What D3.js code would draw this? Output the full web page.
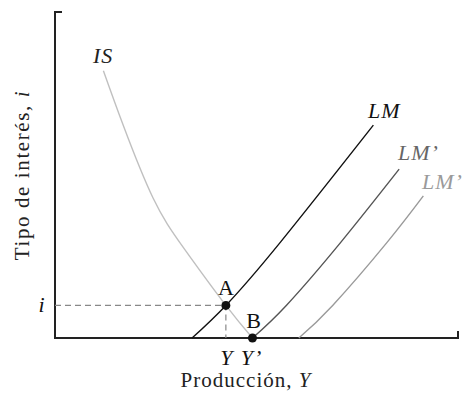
<!DOCTYPE html>
<html>
<head>
<meta charset="utf-8">
<script src="https://cdn.jsdelivr.net/npm/d3@7"></script>
<style>
  body { margin: 0; background: #fff; }
  text { font-family: "Liberation Serif", "DejaVu Serif", serif; }
</style>
</head>
<body>
<div class="chart"></div>
<script>
// curves (output, interest rate)
const isCurve  = [[12, 82], [17, 65], [24.3, 43], [32, 27.5], [42.4, 10], [49, 0]];
const lmCurve  = [[34, 0], [42.4, 10], [56, 29.5], [79, 65.3]];
const lm2Curve = [[49, 0], [57.4, 10], [71, 29.5], [85.4, 51.8]];
const lm3Curve = [[60.5, 0], [68.9, 10], [82.5, 29.5], [91.4, 43.6]];
const pointA = [42.4, 10];
const pointB = [49, 0];

let width = 462, height = 399;

let svg = d3.select(".chart").append("svg")
  .attr("width", width)
  .attr("height", height);

let x = d3.scaleLinear().domain([0, 100]).range([55, 458]);
let y = d3.scaleLinear().domain([0, 100]).range([338, 12]);

const line = d3.line()
  .x(d => x(d[0]))
  .y(d => y(d[1]))
  .curve(d3.curveNatural);

// axes
svg.append("path")
  .attr("d", "M" + (x(0) + 7) + "," + y(100) + "H" + x(0) + "V" + y(0) + "H" + x(100) + "V" + (y(0) - 7))
  .attr("fill", "none")
  .attr("stroke", "#222")
  .attr("stroke-width", 2);

// dashed guides
svg.append("path")
  .attr("d", "M" + x(0) + "," + y(pointA[1]) + "H" + x(pointA[0]) + "V" + y(0))
  .attr("fill", "none")
  .attr("stroke", "#888")
  .attr("stroke-width", 1.2)
  .attr("stroke-dasharray", "6,4");

let curves = [
  { data: isCurve, color: "#c0c0c0" },
  { data: lmCurve, color: "#111" },
  { data: lm2Curve, color: "#555" },
  { data: lm3Curve, color: "#9a9a9a" }
];

svg.selectAll(".curve")
  .data(curves)
  .join("path")
  .attr("class", "curve")
  .attr("d", d => line(d.data))
  .attr("fill", "none")
  .attr("stroke", d => d.color)
  .attr("stroke-width", 1.4);

svg.selectAll(".pt")
  .data([pointA, pointB])
  .join("circle")
  .attr("class", "pt")
  .attr("cx", d => x(d[0]))
  .attr("cy", d => y(d[1]))
  .attr("r", 4.5)
  .attr("fill", "#111");

// labels
const labels = [
  { t: "IS", x: 93, y: 63, c: "#222", it: true, a: "start" },
  { t: "LM", x: 368, y: 118, c: "#111", it: true, a: "start" },
  { t: "LM\u2019", x: 398, y: 160, c: "#666", it: true, a: "start" },
  { t: "LM\u2019\u2019", x: 422, y: 189, c: "#9a9a9a", it: true, a: "start" },
  { t: "A", x: x(pointA[0]), y: 295, c: "#111", it: false, a: "middle" },
  { t: "B", x: x(pointB[0]) + 1, y: 328, c: "#111", it: false, a: "middle" },
  { t: "Y", x: x(pointA[0]) + 1, y: 365, c: "#111", it: true, a: "middle" },
  { t: "Y\u2019", x: x(pointB[0]) - 1, y: 365, c: "#111", it: true, a: "middle" },
  { t: "i", x: 42, y: 312, c: "#111", it: true, a: "middle" }
];

svg.selectAll(".lbl")
  .data(labels)
  .join("text")
  .attr("class", "lbl")
  .attr("x", d => d.x)
  .attr("y", d => d.y)
  .attr("fill", d => d.c)
  .attr("text-anchor", d => d.a)
  .style("font-style", d => d.it ? "italic" : "normal")
  .style("font-size", "22px")
  .style("letter-spacing", d => d.it ? "1px" : "0px")
  .text(d => d.t);

let xt = svg.append("text")
  .attr("x", 246)
  .attr("y", 387)
  .attr("text-anchor", "middle")
  .style("font-size", "21px")
  .style("letter-spacing", "1px")
  .attr("fill", "#222");
xt.append("tspan").text("Producción, ");
xt.append("tspan").style("font-style", "italic").text("Y");

let yt = svg.append("text")
  .attr("transform", "translate(29,175) rotate(-90)")
  .attr("text-anchor", "middle")
  .style("font-size", "21px")
  .style("letter-spacing", "1.6px")
  .attr("fill", "#222");
yt.append("tspan").text("Tipo de interés, ");
yt.append("tspan").style("font-style", "italic").text("i");
</script>
</body>
</html>
